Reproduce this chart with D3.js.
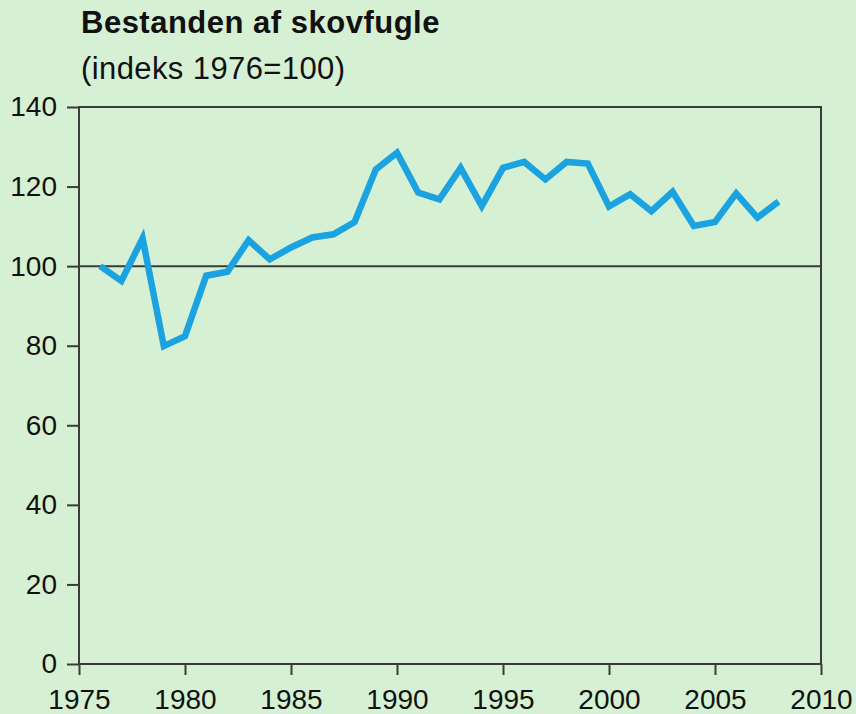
<!DOCTYPE html>
<html>
<head>
<meta charset="utf-8">
<script src="https://cdn.jsdelivr.net/npm/d3@7"></script>
<style>
  html, body { margin: 0; padding: 0; background: #d6f0d3; }
  svg { display: block; }
</style>
</head>
<body>
<svg id="chart" width="856" height="714"></svg>
<script>
const years = [1976,1977,1978,1979,1980,1981,1982,1983,1984,1985,1986,1987,1988,1989,1990,1991,1992,1993,1994,1995,1996,1997,1998,1999,2000,2001,2002,2003,2004,2005,2006,2007,2008];
const indexValues = [100,96.3,107,79.9,82.4,97.6,98.6,106.5,101.7,104.7,107.2,108,111.1,124.3,128.5,118.5,116.8,124.7,115.1,124.7,126.2,121.8,126.2,125.8,115,118.1,113.8,118.7,110.1,111.1,118.3,112.2,116.2];
const xTicks = [1975,1980,1985,1990,1995,2000,2005,2010];
const yTicks = [0,20,40,60,80,100,120,140];
const baselineValue = [100];
const titleText = "Bestanden af skovfugle";
const subtitleText = "(indeks 1976=100)";

(function () {
const svg = d3.select("#chart");
const W = 856, H = 714;
const mLeft = 79, mRight = 821, mTop = 107, mBottom = 664;
const axisColor = "#3b3b3b";
const font = "'Liberation Sans', Arial, Helvetica, sans-serif";

svg.append("rect").attr("width", W).attr("height", H).attr("fill", "#d6f0d3");

const x = d3.scaleLinear().domain([1975, 2010]).range([mLeft, mRight]);
const y = d3.scaleLinear().domain([0, 140]).range([mBottom, mTop]);

// title
svg.append("text").attr("x", 81).attr("y", 33)
  .attr("font-family", font).attr("font-weight", "bold").attr("font-size", 31)
  .attr("letter-spacing", 0.5).attr("fill", "#111").text(titleText);
svg.append("text").attr("x", 81).attr("y", 79)
  .attr("font-family", font).attr("font-size", 31)
  .attr("letter-spacing", 0.4).attr("fill", "#111").text(subtitleText);

// y axis
const yAxis = svg.append("g").attr("transform", `translate(${mLeft},0)`)
  .call(d3.axisLeft(y).tickValues(yTicks).tickSize(12).tickPadding(10));
yAxis.select(".domain").remove();
yAxis.selectAll(".tick line").attr("stroke", axisColor).attr("stroke-width", 2);
yAxis.selectAll(".tick text").attr("font-family", font).attr("font-size", 28).attr("fill", "#111");

// x axis
const xAxis = svg.append("g").attr("transform", `translate(0,${mBottom})`)
  .call(d3.axisBottom(x).tickValues(xTicks).tickFormat(d3.format("d")).tickSize(11).tickPadding(14));
xAxis.select(".domain").remove();
xAxis.selectAll(".tick line").attr("stroke", axisColor).attr("stroke-width", 2);
xAxis.selectAll(".tick text").attr("font-family", font).attr("font-size", 28).attr("fill", "#111");

// frame
svg.append("rect").attr("x", mLeft).attr("y", mTop)
  .attr("width", mRight - mLeft).attr("height", mBottom - mTop)
  .attr("fill", "none").attr("stroke", axisColor).attr("stroke-width", 2);

// reference line at 100
svg.selectAll(".ref").data(baselineValue).enter().append("line")
  .attr("class", "ref")
  .attr("x1", mLeft).attr("x2", mRight)
  .attr("y1", d => y(d)).attr("y2", d => y(d))
  .attr("stroke", axisColor).attr("stroke-width", 2);

// data line
const data = years.map((yr, i) => ({ yr, v: indexValues[i] }));
svg.append("path").datum(data)
  .attr("fill", "none").attr("stroke", "#1ba3e1").attr("stroke-width", 6.5)
  .attr("stroke-linejoin", "miter").attr("stroke-linecap", "butt")
  .attr("d", d3.line().x(d => x(d.yr)).y(d => y(d.v)));
})();
</script>
</body>
</html>
